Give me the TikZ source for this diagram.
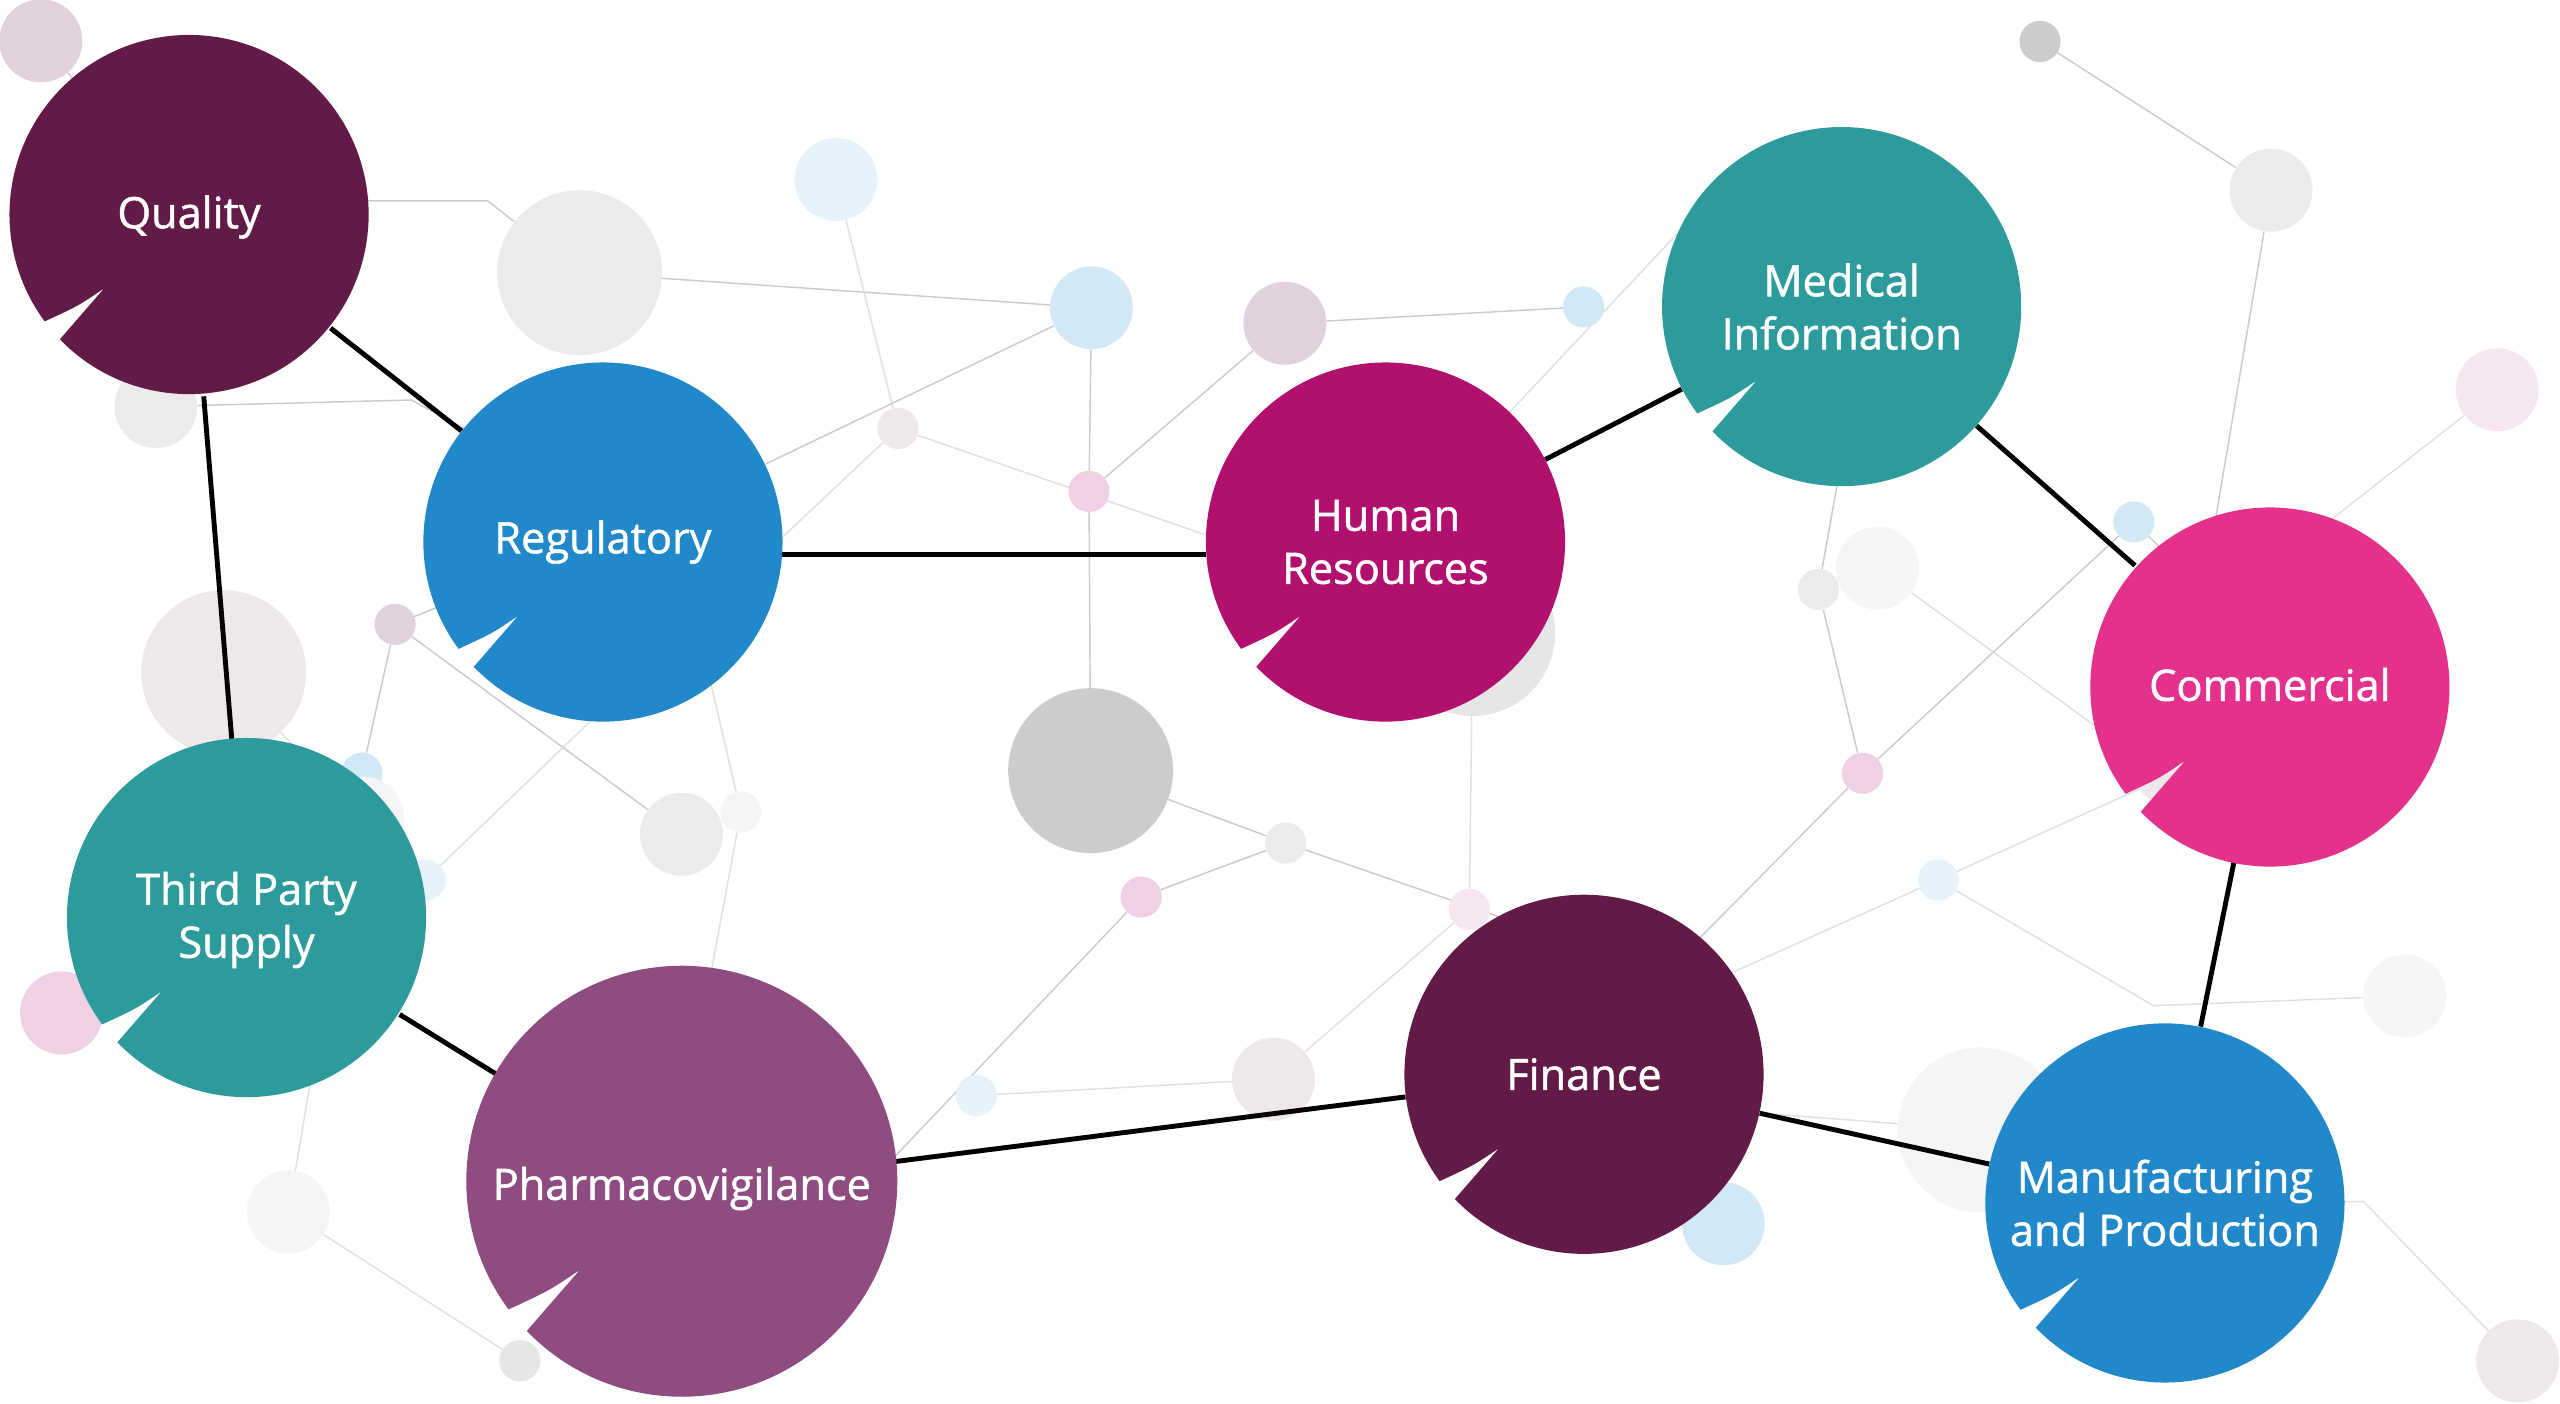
\documentclass[tikz,border=0pt]{standalone}
\usepackage{fontspec}
\setmainfont{Open Sans}
\newfontfamily\hubfont{Open Sans}[FakeBold=1.2]
\usepackage{xcolor}
\usepackage{tikz}

\definecolor{plum}{HTML}{621A47}
\definecolor{azure}{HTML}{2188C9}
\definecolor{berry}{HTML}{B1106E}
\definecolor{jade}{HTML}{2D9A9C}
\definecolor{rose}{HTML}{E4318B}
\definecolor{grape}{HTML}{8E4C80}
\definecolor{mauve}{HTML}{E0D1DC}
\definecolor{palemauve}{HTML}{EEE7EC}
\definecolor{grey1}{HTML}{EBEBEB}
\definecolor{grey2}{HTML}{E6E6E6}
\definecolor{darkgrey}{HTML}{CCCCCC}
\definecolor{palegrey}{HTML}{F5F5F5}
\definecolor{lightblue}{HTML}{D3E8F5}
\definecolor{paleblue}{HTML}{E7F3FA}
\definecolor{pink1}{HTML}{F0D0E3}
\definecolor{palepink}{HTML}{F6E6F0}
\definecolor{wirecol}{HTML}{CBCBCB}
\definecolor{faintcol}{HTML}{E0E0E0}

\pgfdeclarelayer{wires}
\pgfdeclarelayer{dots}
\pgfdeclarelayer{links}
\pgfdeclarelayer{fills}
\pgfsetlayers{wires,dots,links,fills,main}

\tikzset{
  hub/.style={circle, inner sep=0pt, text=white, align=center,
    font={\hubfont\fontsize{26.5}{32.5}\selectfont}},
  dotS/.style={circle, inner sep=0pt, fill=#1, minimum size=25.2pt},
  dotM/.style={circle, inner sep=0pt, fill=#1, minimum size=50.8pt},
  dotL/.style={circle, inner sep=0pt, fill=#1, minimum size=101pt},
  wire/.style={draw=wirecol, line width=0.9pt},
  faint/.style={draw=faintcol, line width=0.9pt},
  link/.style={draw=black, line width=3pt},
}

% bubble: [text options] name, x, y, radius, colour, text
\newcommand{\bubble}[7][]{%
  \pgfmathsetmacro{\rtip}{0.627*#5}%
  \pgfmathsetmacro{\rctl}{0.80*#5}%
  \node[hub, minimum size=2*#5pt, #1] (#2) at (#3,#4) {#7};
  \begin{pgfonlayer}{fills}
    \fill[#6] (#3,#4) ++(224:#5pt) arc[start angle=224, end angle=576.5, radius=#5pt]
      .. controls ([shift={(219.5:\rctl pt)}]#3,#4) .. ([shift={(221:\rtip pt)}]#3,#4) -- cycle;
  \end{pgfonlayer}}

\begin{document}
\begin{tikzpicture}[x=1pt, y=-1pt]
    \useasboundingbox (0,0) rectangle (1568,859.4);

    % departments
    \bubble[yshift=-1.5pt]{qual}{115.8}{131.4}{110}{plum}{Quality}
    \bubble{reg}{369.3}{332}{110}{azure}{Regulatory}
    \bubble{hr}{848.6}{332}{110}{berry}{Human\\Resources}
    \bubble{med}{1128}{187.8}{110}{jade}{Medical\\Information}
    \bubble[yshift=1.5pt]{com}{1390.3}{420.8}{110}{rose}{Commercial}
    \bubble[yshift=-1.5pt]{tp}{151}{562}{110}{jade}{Third Party\\Supply}
    \bubble[yshift=-4.5pt]{pv}{417.6}{723.5}{132}{grape}{Pharmacovigilance}
    \bubble{fin}{970.2}{658}{110}{plum}{Finance}
    \bubble{mp}{1326}{736.8}{110}{azure}{Manufacturing\\and Production}

    % background molecules
    \begin{pgfonlayer}{dots}
        \node[dotM=mauve] (c1) at (25,25) {};
        \node[dotL=grey1] (c2) at (355,167) {};
        \node[dotM=grey1] (c3) at (95.5,249) {};
        \node[dotM=paleblue] (c4) at (512,110) {};
        \node[dotM=lightblue] (c5) at (668.5,188.5) {};
        \node[dotM=mauve] (c6) at (787,198) {};
        \node[dotS=lightblue] (c7) at (970,188) {};
        \node[dotS=palemauve] (c8) at (550,262.4) {};
        \node[dotS=pink1] (c9) at (667,301) {};
        \node[dotS=darkgrey] (c10) at (1249.5,25.4) {};
        \node[dotM=grey1] (c11) at (1391,116.5) {};
        \node[dotM=palepink] (c12) at (1529.5,238.7) {};
        \node[dotS=lightblue] (c13) at (1307,319.7) {};
        \node[dotM=palegrey] (c14) at (1150,348) {};
        \node[dotS=grey1] (c15) at (1113.8,361) {};
        \node[dotS=pink1] (c16) at (1140.8,473.6) {};
        \node[dotL=grey2] (c17) at (902,388) {};
        \node[dotL=palemauve] (c18) at (137,412) {};
        \node[dotS=mauve] (c19) at (242,382.4) {};
        \node[dotS=lightblue] (c20) at (221.7,473.5) {};
        \node[dotM=palegrey] (c21) at (222,501) {};
        \node[dotS=paleblue] (c22) at (260.6,539) {};
        \node[dotM=grey1] (c23) at (417.4,511) {};
        \node[dotS=palegrey] (c24) at (453.8,497.3) {};
        \node[dotL=darkgrey] (c25) at (668,472) {};
        \node[dotS=grey1] (c26) at (787.5,516.4) {};
        \node[dotS=pink1] (c27) at (699,549.4) {};
        \node[dotS=palepink] (c28) at (900,557) {};
        \node[dotS=paleblue] (c29) at (1187,539) {};
        \node[dotS=palemauve] (c30) at (1322,478) {};
        \node[dotM=palegrey] (c31) at (1473,610) {};
        \node[dotL=palegrey] (c32) at (1213,692) {};
        \node[dotM=lightblue] (c33) at (1055.5,749.5) {};
        \node[dotM=palemauve] (c34) at (780,661) {};
        \node[dotS=paleblue] (c35) at (598,671) {};
        \node[dotM=pink1] (c36) at (37.7,620.4) {};
        \node[dotM=palegrey] (c37) at (176.6,742.3) {};
        \node[dotS=grey2] (c38) at (318.4,833.4) {};
        \node[dotM=palemauve] (c39) at (1542,833.5) {};
    \end{pgfonlayer}

    % hidden ends and bends of the thin lines
    \coordinate (q1) at (200,123);
    \coordinate (k1) at (298.7,123);
    \coordinate (k2) at (252,245);
    \coordinate (reg2) at (300,271);
    \coordinate (hr7) at (780,342);
    \coordinate (reg8) at (440,366);
    \coordinate (hr11) at (895,284);
    \coordinate (med11) at (1050,119);
    \coordinate (com13) at (1355,330);
    \coordinate (com14) at (1400,340);
    \coordinate (med15) at (1130,270);
    \coordinate (com17) at (1310,464);
    \coordinate (com19) at (1340,352);
    \coordinate (fin20) at (1010,606);
    \coordinate (fin22) at (940,569);
    \coordinate (pv26) at (520,738);
    \coordinate (reg28) at (431,400);
    \coordinate (pv28) at (431,620);
    \coordinate (reg30) at (280,367);
    \coordinate (reg32) at (380,424);
    \coordinate (tp34) at (194,640);
    \coordinate (fin36) at (1040,679);
    \coordinate (fin37) at (1030,609.6);
    \coordinate (k39) at (1319,616);
    \coordinate (mp40) at (1400,736);
    \coordinate (k40) at (1447.7,736);

    \begin{pgfonlayer}{wires}
        \draw[wire] (c1) -- (qual);
        \draw[wire] (q1) -- (k1) -- (c2);
        \draw[wire] (c3) -- (k2) -- (reg2);
        \draw[wire] (c2) -- (c5);
        \draw[faint] (c4) -- (c8);
        \draw[wire] (c5) -- (reg);
        \draw[wire] (c5) -- (c9) -- (c25);
        \draw[faint] (c8) -- (hr7);
        \draw[faint] (c8) -- (reg8);
        \draw[wire] (c6) -- (c9);
        \draw[wire] (c6) -- (c7);
        \draw[faint] (hr11) -- (med11);
        \draw[wire] (c10) -- (c11);
        \draw[wire] (c11) -- (com13);
        \draw[faint] (c12) -- (com14);
        \draw[wire] (med15) -- (c15);
        \draw[wire] (c15) -- (c16);
        \draw[faint] (c14) -- (com17);
        \draw[wire] (c16) -- (c13);
        \draw[wire] (c13) -- (com19);
        \draw[wire] (c16) -- (fin20);
        \draw[faint] (c17) -- (c28);
        \draw[wire] (c26) -- (fin22);
        \draw[faint] (c28) -- (c34);
        \draw[wire] (c25) -- (c26);
        \draw[wire] (c26) -- (c27);
        \draw[wire] (c27) -- (pv26);
        \draw[faint] (c35) -- (c34);
        \draw[faint] (reg28) -- (c24) -- (pv28);
        \draw[wire] (c19) -- (c23);
        \draw[wire] (c19) -- (reg30);
        \draw[wire] (c19) -- (c20);
        \draw[faint] (c22) -- (reg32);
        \draw[faint] (c18) -- (c21);
        \draw[faint] (tp34) -- (c37);
        \draw[faint] (c37) -- (c38);
        \draw[faint] (fin36) -- (c32);
        \draw[faint] (fin37) -- (c29);
        \draw[faint] (c29) -- (c30);
        \draw[faint] (c29) -- (k39) -- (c31);
        \draw[faint] (mp40) -- (k40) -- (c39);
    \end{pgfonlayer}

    % links between departments
    \begin{pgfonlayer}{links}
        \draw[link] (qual) -- (reg);
        \draw[link] (qual) -- (tp);
        \draw[link] (reg.-4.7) -- (hr.184.7);
        \draw[link] (hr) -- (med);
        \draw[link] (med) -- (com);
        \draw[link] (tp) -- (pv);
        \draw[link] (pv) -- (fin);
        \draw[link] (fin) -- (mp);
        \draw[link] (com) -- (mp);
    \end{pgfonlayer}
\end{tikzpicture}
\end{document}
